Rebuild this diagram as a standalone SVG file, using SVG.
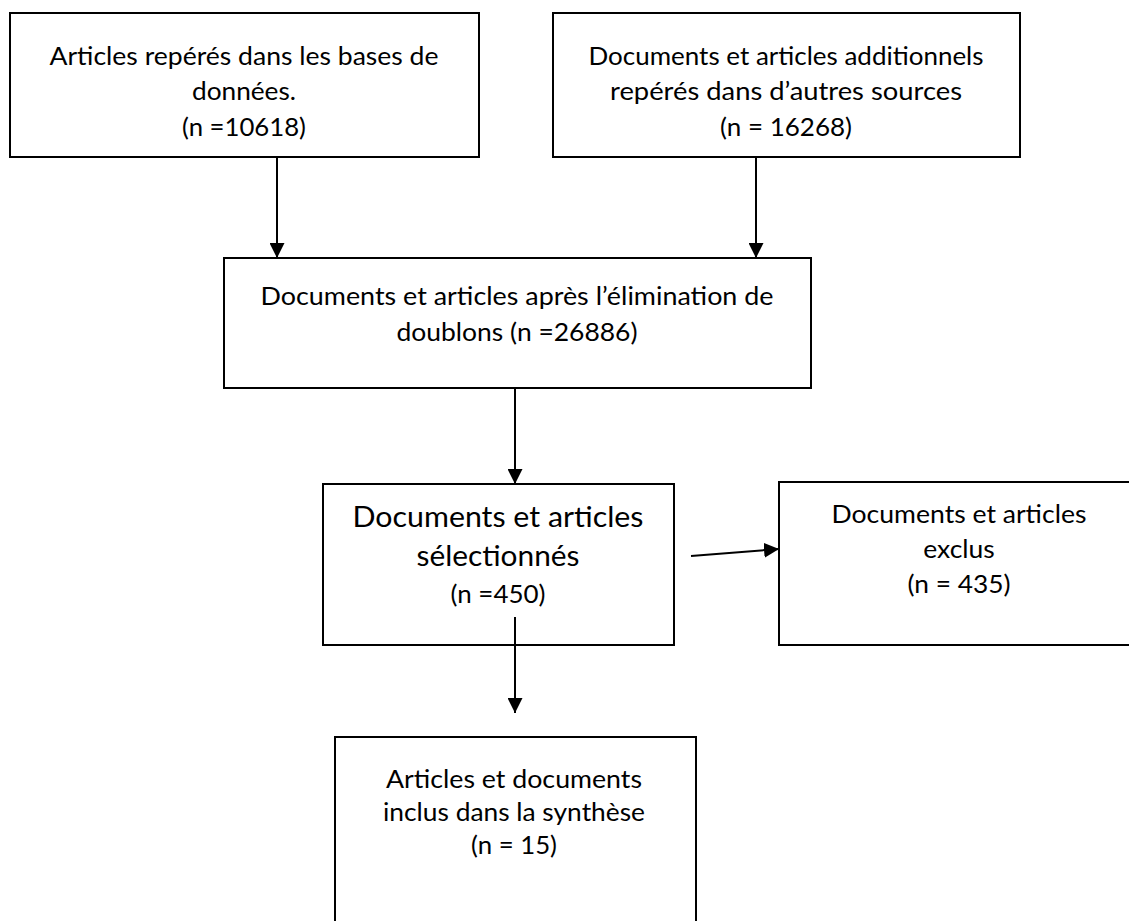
<svg xmlns="http://www.w3.org/2000/svg" width="1129" height="921" viewBox="0 0 1129 921">
<style>
.box{fill:#fff;stroke:#000;stroke-width:2}
.t{font-family:Lato,"Liberation Sans",sans-serif;font-size:25.6px;fill:#000;text-anchor:middle}
.big{font-size:29.6px}
.conn{stroke:#000;stroke-width:2;fill:none;marker-end:url(#ah)}
</style>
<defs>
<marker id="ah" markerUnits="userSpaceOnUse" markerWidth="15" markerHeight="15" refX="15" refY="7.5" orient="auto" viewBox="0 0 15 15">
<path d="M0,0 L15,7.5 L0,15 z" fill="#000"/>
</marker>
</defs>
<rect width="1129" height="921" fill="#fff"/>
<g id="n1">
<rect class="box" x="10" y="13" width="469" height="144"/>
<text class="t" x="244" y="65" textLength="389" lengthAdjust="spacingAndGlyphs">Articles repérés dans les bases de</text>
<text class="t" x="244" y="100" textLength="104" lengthAdjust="spacingAndGlyphs">données.</text>
<text class="t" x="244" y="136" textLength="124" lengthAdjust="spacingAndGlyphs">(n =10618)</text>
</g>
<g id="n2">
<rect class="box" x="553" y="13" width="467" height="144"/>
<text class="t" x="786" y="65" textLength="395" lengthAdjust="spacingAndGlyphs">Documents et articles additionnels</text>
<text class="t" x="786" y="100" textLength="352" lengthAdjust="spacingAndGlyphs">repérés dans d’autres sources</text>
<text class="t" x="786" y="136" textLength="132" lengthAdjust="spacingAndGlyphs">(n = 16268)</text>
</g>
<g id="n3">
<rect class="box" x="224" y="258" width="587" height="130"/>
<text class="t" x="517" y="305" textLength="513" lengthAdjust="spacingAndGlyphs">Documents et articles après l’élimination de</text>
<text class="t" x="517" y="341" textLength="241" lengthAdjust="spacingAndGlyphs">doublons (n =26886)</text>
</g>
<g id="n4">
<rect class="box" x="323" y="484" width="351" height="161"/>
<text class="t big" x="498" y="527" textLength="291" lengthAdjust="spacingAndGlyphs">Documents et articles</text>
<text class="t big" x="498" y="566" textLength="163" lengthAdjust="spacingAndGlyphs">sélectionnés</text>
<text class="t" x="498" y="603" textLength="95" lengthAdjust="spacingAndGlyphs">(n =450)</text>
</g>
<g id="n5">
<rect class="box" x="779" y="482" width="360" height="163"/>
<text class="t" x="959" y="523" textLength="255" lengthAdjust="spacingAndGlyphs">Documents et articles</text>
<text class="t" x="959" y="558" textLength="71.5" lengthAdjust="spacingAndGlyphs">exclus</text>
<text class="t" x="959" y="593" textLength="103" lengthAdjust="spacingAndGlyphs">(n = 435)</text>
</g>
<g id="n6">
<rect class="box" x="335" y="737" width="361" height="200"/>
<text class="t" x="514" y="788" textLength="256" lengthAdjust="spacingAndGlyphs">Articles et documents</text>
<text class="t" x="514" y="821" textLength="262" lengthAdjust="spacingAndGlyphs">inclus dans la synthèse</text>
<text class="t" x="514" y="854" textLength="86" lengthAdjust="spacingAndGlyphs">(n = 15)</text>
</g>
<g id="connectors">
<line class="conn" x1="277" y1="157" x2="277" y2="258"/>
<line class="conn" x1="756" y1="157" x2="756" y2="258"/>
<line class="conn" x1="515" y1="388" x2="515" y2="484"/>
<line class="conn" x1="691" y1="556" x2="779" y2="549"/>
<line class="conn" x1="515" y1="617" x2="515" y2="713"/>
</g>
</svg>
